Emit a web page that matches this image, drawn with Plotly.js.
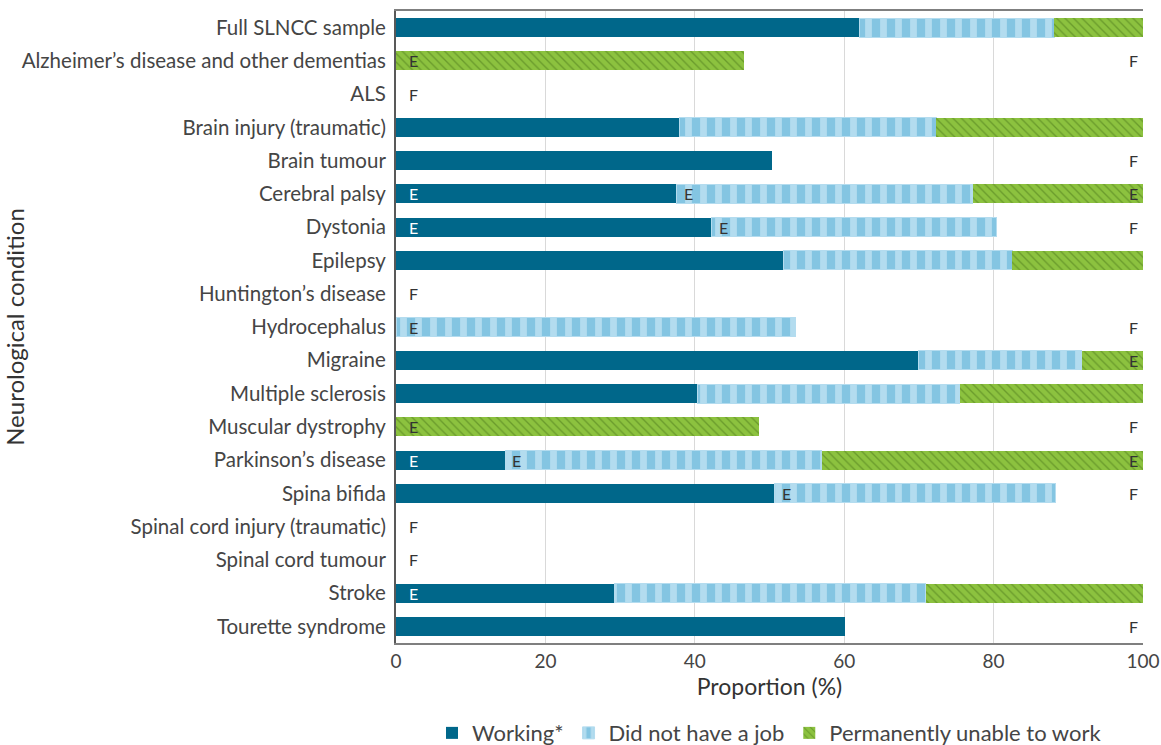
<!DOCTYPE html>
<html>
<head>
<meta charset="utf-8">
<script src="https://cdn.plot.ly/plotly-3.0.1.min.js"></script>
<style>
  html, body { margin: 0; padding: 0; background: #ffffff; }
  #chart { width: 1161px; height: 745px; }
</style>
</head>
<body>
<div id="chart"></div>
<script>
// ---- Data ----
const categories = [
  "Full SLNCC sample",
  "Alzheimer\u2019s disease and other dementias",
  "ALS",
  "Brain injury (traumatic)",
  "Brain tumour",
  "Cerebral palsy",
  "Dystonia",
  "Epilepsy",
  "Huntington\u2019s disease",
  "Hydrocephalus",
  "Migraine",
  "Multiple sclerosis",
  "Muscular dystrophy",
  "Parkinson\u2019s disease",
  "Spina bifida",
  "Spinal cord injury (traumatic)",
  "Spinal cord tumour",
  "Stroke",
  "Tourette syndrome"
];

const working = [62.1, null, null, 38.0, 50.3, 37.6, 42.3, 51.9, null, null, 69.9, 40.3, null, 14.6, 50.7, null, null, 29.2, 60.1];
const noJob   = [26.0, null, null, 34.3, null, 39.6, 38.1, 30.6, null, 53.5, 21.9, 35.2, null, 42.4, 37.6, null, null, 41.7, null];
const unable  = [11.9, 46.6, null, 27.7, null, 22.8, null, 17.5, null, null, 8.2, 24.5, 48.6, 43.0, null, null, null, 29.1, null];

// Data quality flags: E = use with caution, F = too unreliable to be published
const workingFlag = ["", "F", "F", "", "", "E", "E", "", "F", "F", "", "", "F", "E", "", "F", "F", "E", ""];
const noJobFlag   = ["", "F", "F", "", "F", "E", "E", "", "F", "E", "", "", "F", "E", "E", "F", "F", "", "F"];
const unableFlag  = ["", "E", "F", "", "F", "E", "F", "", "F", "F", "E", "", "E", "E", "F", "F", "F", "", "F"];

const seriesNames = ["Working*", "Did not have a job", "Permanently unable to work"];

// ---- Styling ----
const FONT = "Lato, 'Open Sans', sans-serif";
const TXT = "#454545";

const traces = [
  {
    type: "bar", orientation: "h", name: seriesNames[0],
    y: categories, x: working,
    marker: { color: "#00678A", line: { width: 0 } },
    hoverinfo: "x+y"
  },
  {
    type: "bar", orientation: "h", name: seriesNames[1],
    y: categories, x: noJob,
    marker: {
      color: "#84C5E2",
      line: { color: "#B4DCEF", width: 1 },
      pattern: { shape: "|", fgcolor: "#B3DCEF", bgcolor: "#84C5E2", size: 15, solidity: 0.45, fillmode: "replace" }
    },
    hoverinfo: "x+y"
  },
  {
    type: "bar", orientation: "h", name: seriesNames[2],
    y: categories, x: unable,
    marker: {
      color: "#8CC23F",
      line: { width: 0 },
      pattern: { shape: "\\", fgcolor: "#6A9B2C", bgcolor: "#8CC23F", size: 6, solidity: 0.22, fillmode: "replace" }
    },
    hoverinfo: "x+y"
  }
];

// ---- Flag annotations ----
const annotations = [];
function addNote(text, x, y, anchor, shift, color) {
  annotations.push({
    x: x, y: y, xref: "x", yref: "y", text: text, showarrow: false,
    xanchor: anchor, yanchor: "middle", xshift: shift,
    font: { family: FONT, size: 16, color: color }
  });
}
categories.forEach((cat, i) => {
  const w = working[i] || 0, n = noJob[i] || 0;
  const allF = workingFlag[i] === "F" && noJobFlag[i] === "F" && unableFlag[i] === "F";
  if (allF) { addNote("F", 0, cat, "left", 11, "#333333"); return; }
  if (workingFlag[i] === "E") addNote("E", 0, cat, "left", 11, "#ffffff");
  if (noJobFlag[i] === "E") addNote("E", w, cat, "left", w === 0 ? 11 : 5, "#333333");
  if (unableFlag[i] === "E") {
    if (w + n > 0) addNote("E", 100, cat, "right", -3, "#333333");
    else addNote("E", 0, cat, "left", 11, "#333333");
  }
  const anyF = workingFlag[i] === "F" || noJobFlag[i] === "F" || unableFlag[i] === "F";
  if (anyF) addNote("F", 100, cat, "right", -3, "#333333");
});

const layout = {
  width: 1161, height: 745,
  margin: { l: 396, r: 18, t: 11, b: 102, autoexpand: false },
  paper_bgcolor: "#ffffff", plot_bgcolor: "#ffffff",
  barmode: "stack",
  bargap: 0.43,
  font: { family: FONT, size: 20, color: TXT },
  showlegend: true,
  legend: {
    orientation: "h", x: 0.5, xanchor: "center",
    yref: "container", y: 0.016, yanchor: "middle",
    font: { family: FONT, size: 22, color: TXT },
    traceorder: "normal"
  },
  xaxis: {
    range: [0, 100], dtick: 20, tick0: 0,
    showgrid: true, gridcolor: "#d9d9d9", gridwidth: 1,
    zeroline: false,
    showline: true, linecolor: "#7f7f7f", linewidth: 2, mirror: true,
    ticks: "", ticklen: 0,
    tickfont: { family: FONT, size: 19, color: TXT },
    title: { text: "Proportion (%)", font: { family: FONT, size: 23, color: "#333333" }, standoff: 5 },
    fixedrange: true
  },
  yaxis: {
    type: "category",
    autorange: "reversed",
    showgrid: false, zeroline: false,
    showline: true, linecolor: "#595959", linewidth: 2,
    ticks: "", ticklabelstandoff: 4,
    tickfont: { family: FONT, size: 20.5, color: TXT },
    title: { text: "Neurological condition", font: { family: FONT, size: 24, color: "#333333" }, standoff: 12 },
    fixedrange: true
  },
  annotations: annotations
};

Plotly.newPlot("chart", traces, layout, { displayModeBar: false, staticPlot: true });
</script>
</body>
</html>
